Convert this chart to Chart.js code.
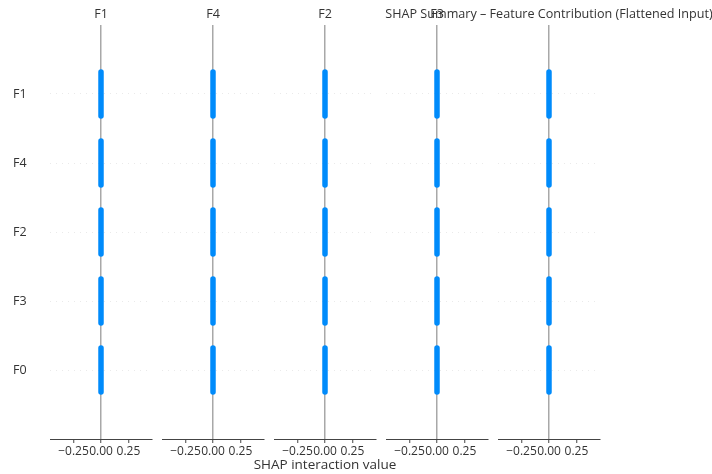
<!DOCTYPE html>
<html>
<head>
<meta charset="utf-8">
<script src="https://cdn.jsdelivr.net/npm/chart.js@4.4.1/dist/chart.umd.min.js"></script>
<style>
  html, body { margin: 0; padding: 0; background: #ffffff; }
  #wrap { position: relative; width: 712px; height: 474px; }
  #wrap canvas { position: absolute; left: 0; top: 0; }
</style>
</head>
<body>
<div id="wrap"></div>
<script>
// Row features, top to bottom
const features = ['F1', 'F4', 'F2', 'F3', 'F0'];
// One panel per feature; the last panel carries the figure title
const columnTitles = ['F1', 'F4', 'F2', 'F3', 'SHAP Summary – Feature Contribution (Flattened Input)'];
// SHAP interaction value of each row feature inside each panel
const interactionValues = [
  [0, 0, 0, 0, 0],
  [0, 0, 0, 0, 0],
  [0, 0, 0, 0, 0],
  [0, 0, 0, 0, 0],
  [0, 0, 0, 0, 0]
];
// Half height of each stacked swarm of samples, in row units
const swarmHalfHeight = [
  [0.32, 0.32, 0.32, 0.32, 0.32],
  [0.32, 0.32, 0.32, 0.32, 0.32],
  [0.32, 0.32, 0.32, 0.32, 0.32],
  [0.32, 0.32, 0.32, 0.32, 0.32],
  [0.32, 0.32, 0.32, 0.32, 0.32]
];
const xTickValues = [-0.25, 0, 0.25];
const xTickLabels = ['\u22120.25', '0.00', '0.25'];
const xAxisTitle = 'SHAP interaction value';
const xAxisTitlePanel = 2;

// Panel geometry (pixels)
const W = 712, H = 474;
const PANEL_LEFT = [50, 162, 274, 386, 498];
const PANEL_WIDTH = 102;
const PLOT_TOP = 25;
const XAXIS_HEIGHT = 35;
const YLABEL_LEFT = 13;

const FONT = '"Open Sans", "Noto Sans", sans-serif';
const TEXT = '#333333';
const BLUE = '#008bfb';

// Panel title above each column and the shared x-axis label below the middle one
const panelText = {
  id: 'panelText',
  afterDraw(chart, args, opts) {
    const { ctx, chartArea } = chart;
    const cx = (chartArea.left + chartArea.right) / 2;
    ctx.save();
    ctx.fillStyle = TEXT;
    ctx.textAlign = 'center';
    ctx.textBaseline = 'middle';
    ctx.font = '12.6px ' + FONT;
    ctx.fillText(opts.title, cx, 14);
    if (opts.xLabel) {
      ctx.font = '13.5px ' + FONT;
      ctx.fillText(opts.xLabel, cx, 465);
    }
    ctx.restore();
  }
};

const wrap = document.getElementById('wrap');
const nRows = features.length;

columnTitles.forEach((title, c) => {
  const canvas = document.createElement('canvas');
  canvas.width = W;
  canvas.height = H;
  wrap.appendChild(canvas);

  const datasets = features.map((f, r) => {
    const pos = nRows - 1 - r;
    const v = interactionValues[c][r];
    const h = swarmHalfHeight[c][r];
    return {
      label: f,
      data: [{ x: v, y: pos - h }, { x: v, y: pos + h }],
      showLine: true,
      borderColor: BLUE,
      backgroundColor: BLUE,
      borderWidth: 5.5,
      borderCapStyle: 'round',
      pointRadius: 0,
      pointHoverRadius: 0
    };
  });

  const first = c === 0;

  new Chart(canvas, {
    type: 'scatter',
    data: { datasets },
    plugins: [panelText],
    options: {
      responsive: false,
      animation: false,
      devicePixelRatio: 1,
      events: [],
      layout: {
        padding: {
          left: first ? YLABEL_LEFT : PANEL_LEFT[c],
          right: W - PANEL_LEFT[c] - PANEL_WIDTH,
          top: PLOT_TOP,
          bottom: 0
        }
      },
      plugins: {
        legend: { display: false },
        tooltip: { enabled: false },
        title: { display: false },
        panelText: { title, xLabel: c === xAxisTitlePanel ? xAxisTitle : '' }
      },
      scales: {
        x: {
          type: 'linear',
          min: -0.464,
          max: 0.464,
          afterBuildTicks: s => { s.ticks = xTickValues.map(v => ({ value: v })); },
          afterFit: s => { s.height = XAXIS_HEIGHT; },
          ticks: {
            autoSkip: false,
            maxRotation: 0,
            padding: 1,
            color: TEXT,
            font: { family: FONT, size: 12 },
            callback: (v, i) => xTickLabels[i]
          },
          grid: {
            drawOnChartArea: true,
            color: ctx => (ctx.tick && ctx.tick.value === 0) ? '#a8a8a8' : 'rgba(0,0,0,0)',
            lineWidth: 1.5,
            tickColor: '#444444',
            tickWidth: 1,
            tickLength: 4
          },
          border: { display: true, color: '#444444', width: 1 },
          title: { display: false }
        },
        y: {
          type: 'linear',
          min: -1,
          max: 5,
          afterBuildTicks: s => { s.ticks = features.map((f, r) => ({ value: nRows - 1 - r })); },
          afterFit: s => { s.width = first ? PANEL_LEFT[0] - YLABEL_LEFT : 0; },
          ticks: {
            display: first,
            padding: 0,
            crossAlign: 'far',
            color: TEXT,
            font: { family: FONT, size: 12.5 },
            callback: v => features[nRows - 1 - v]
          },
          grid: {
            color: '#dcdcdc',
            lineWidth: 0.6,
            drawTicks: false
          },
          border: { display: false, dash: [1, 5] }
        }
      }
    }
  });
});
</script>
</body>
</html>
